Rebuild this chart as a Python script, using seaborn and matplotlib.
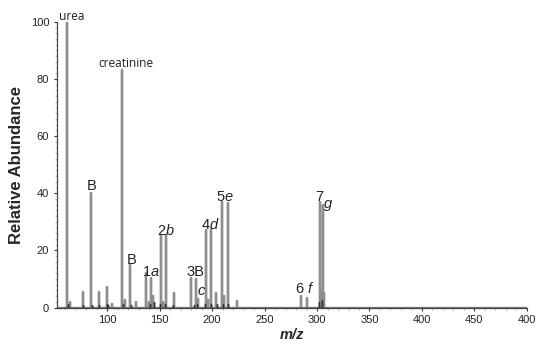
#!/usr/bin/env python3
import pandas as pd
import seaborn as sns
import matplotlib.pyplot as plt
from matplotlib.ticker import MultipleLocator

# peak positions (m/z) and relative abundance
peak_mz = [62, 65, 77, 85, 92, 100, 105, 114, 117,
           122, 127, 137, 140, 142, 144, 151, 153, 156, 164,
           180, 185, 187, 194, 196, 199, 204, 209, 211, 215,
           224, 284.5, 290, 303, 304, 305.5, 306.5]
peak_abund = [100, 2, 5.3, 40, 5.5, 7.3, 1.2, 83, 2.5,
              15, 2, 12, 2, 10.5, 4, 25.5, 2, 25.5, 5,
              10.5, 10, 3, 27, 2.5, 27.5, 5, 37, 4, 36.5,
              2.2, 4, 3.5, 37, 6, 36, 5]

# low-level baseline noise (darker clusters at the foot of the peaks)
noise_mz = [63, 77, 86, 92, 100, 101, 115, 123, 141, 145, 150, 155,
            163, 183, 186, 193, 199, 205, 210, 215, 302, 305]
noise_abund = [1.2, 0.8, 0.8, 1.0, 1.4, 0.8, 1.2, 0.8, 1.2, 1.8, 1.3, 1.2,
               0.8, 1.0, 1.2, 1.2, 1.3, 1.2, 1.3, 1.4, 2.0, 2.5]

# annotations: text, m/z, height
label_text = ["urea", "creatinine", "B", "B", "1$\\it{a}$", "2$\\it{b}$", "3B",
              "$\\it{c}$", "4$\\it{d}$", "5$\\it{e}$", "6 $\\it{f}$", "7", "$\\it{g}$"]
label_mz = [66, 117.5, 85.5, 123.5, 142, 156, 184.5, 190, 198, 212, 288, 302.5, 310]
label_y = [102, 85.5, 42.5, 16.5, 12.5, 27, 12.5, 5.8, 29, 38.6, 6.8, 38.8, 35.8]

x_ticks = [100, 150, 200, 250, 300, 350, 400, 450, 500]
x_tick_labels = ["100", "150", "200", "250", "300", "350", "400", "450", "400"]
y_ticks = [0, 20, 40, 60, 80, 100]


def spectrum_to_dataframe(mz, abund):
    # turn the peak list into a stick trace that drops back to the baseline
    rows = [(50, 0.0)]
    for m, a in sorted(zip(mz, abund)):
        rows += [(m, 0.0), (m, a), (m, 0.0)]
    rows.append((500, 0.0))
    return pd.DataFrame(rows, columns=["m/z", "Relative Abundance"])


def plot_spectrum(df, df_noise):
    sns.set_style("white")
    plt.rcParams["font.family"] = ["Liberation Sans", "DejaVu Sans"]
    plt.rcParams["mathtext.fontset"] = "custom"
    plt.rcParams["mathtext.rm"] = "Liberation Sans"
    plt.rcParams["mathtext.it"] = "Liberation Sans:italic"

    fig = plt.figure(figsize=(5.36, 3.48), dpi=100)
    ax = fig.add_axes([0.106, 0.116, 0.877, 0.821])

    sns.lineplot(ax=ax, data=df, x="m/z", y="Relative Abundance", sort=False,
                 estimator=None, color="#8e8e8e", linewidth=1.7)
    sns.lineplot(ax=ax, data=df_noise, x="m/z", y="Relative Abundance", sort=False,
                 estimator=None, color="#333333", linewidth=1.0)

    for text, m, y in zip(label_text, label_mz, label_y):
        if text in ("urea", "creatinine"):
            ax.text(m, y, text, fontsize=8.6, ha="center", va="center", color="#222222",
                    family=["Open Sans", "DejaVu Sans"])
        else:
            ax.text(m, y, text, fontsize=10.5, ha="center", va="center", color="#222222")

    ax.set_xlim(52, 498)
    ax.set_ylim(0, 100)
    ax.set_xticks(x_ticks)
    ax.set_xticklabels(x_tick_labels)
    ax.set_yticks(y_ticks)
    ax.xaxis.set_minor_locator(MultipleLocator(10))
    ax.yaxis.set_minor_locator(MultipleLocator(2))
    ax.tick_params(axis="both", which="major", labelsize=8, length=2.5, width=0.8,
                   colors="#333333", labelcolor="#222222", pad=3, bottom=True, left=True)
    ax.tick_params(axis="both", which="minor", length=1.5, width=0.5,
                   colors="#999999", bottom=True, left=True)

    ax.set_ylabel("Relative Abundance", fontsize=12, fontweight="bold", labelpad=5)
    ax.set_xlabel("m/z", fontsize=10.5, fontweight="bold", fontstyle="italic", labelpad=2)

    sns.despine(ax=ax)
    for side in ("left", "bottom"):
        ax.spines[side].set_color("#444444")
        ax.spines[side].set_linewidth(0.9)

    fig.savefig("out.png", dpi=100)


def main():
    df = spectrum_to_dataframe(peak_mz, peak_abund)
    df_noise = spectrum_to_dataframe(noise_mz, noise_abund)
    plot_spectrum(df, df_noise)


if __name__ == "__main__":
    main()
